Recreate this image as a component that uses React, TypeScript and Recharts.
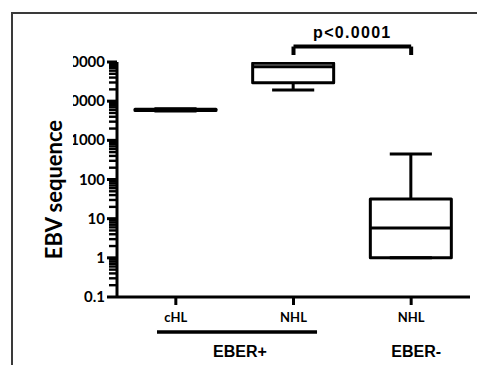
import React from "react";
import { ComposedChart, Bar, XAxis, YAxis, ReferenceLine, Label } from "recharts";

// categories (ids keep the two NHL groups apart)
const groupIds = ["cHL", "NHL+", "NHL-"];
const groupLabels = ["cHL", "NHL", "NHL"];

// box plot values (copies / EBV sequence)
const whiskerLow = [5600, 19300, 1];
const quartile1 = [5800, 29500, 1];
const medians = [6000, 76000, 5.8];
const quartile3 = [6200, 92700, 32];
const whiskerHigh = [6400, 98000, 450];

// tick labels of the log axis
const majorTicks = [0.1, 1, 10, 100, 1000, 10000, 100000];
const majorLabels = ["0.1", "1", "10", "100", "1000", "10000", "100000"];
const minorSteps = [2, 3, 4, 5, 6, 7, 8, 9];

// EBER status groups under the x axis
const eberNames = ["EBER+", "EBER-"];
const eberFirst = [0, 2];
const eberLast = [1, 2];

// significance bracket
const bracketFrom = "NHL+";
const bracketTo = "NHL-";
const bracketTop = 248000;
const bracketFoot = 151000;
const bracketText = "p<0.0001";

const data = groupIds.map((id, i) => ({
  id,
  name: groupLabels[i],
  range: [whiskerLow[i], whiskerHigh[i]],
  q1: quartile1[i],
  median: medians[i],
  q3: quartile3[i],
}));

const calibri = "Lato, 'Open Sans', sans-serif";
const arial = "'Liberation Sans', Arial, sans-serif";

const BoxShape = (props: any) => {
  const { x, y, width, height, payload } = props;
  if (x == null || y == null) return null;
  const top = Math.min(y, y + height);
  const h = Math.abs(height);
  const hi = Math.log10(payload.range[1]);
  const lo = Math.log10(payload.range[0]);
  const toY = (v: number) => top + (h * (hi - Math.log10(v))) / (hi - lo || 1);
  const cx = x + width / 2;
  const cap = width * 0.26;
  const yMax = toY(payload.range[1]);
  const yMin = toY(payload.range[0]);
  const yQ3 = toY(payload.q3);
  const yQ1 = toY(payload.q1);
  const yMed = toY(payload.median);
  return (
    <g stroke="#000" strokeWidth={3} fill="none" strokeLinejoin="round">
      <line x1={cx} x2={cx} y1={yMax} y2={yQ3} />
      <line x1={cx} x2={cx} y1={yQ1} y2={yMin} />
      <line x1={cx - cap} x2={cx + cap} y1={yMax} y2={yMax} />
      <line x1={cx - cap} x2={cx + cap} y1={yMin} y2={yMin} />
      <rect x={x} y={yQ3} width={width} height={Math.max(yQ1 - yQ3, 0.5)} />
      <line x1={x} x2={x + width} y1={yMed} y2={yMed} />
    </g>
  );
};

const YTick = (props: any) => {
  const { x, y, payload, height } = props;
  const idx = majorTicks.indexOf(payload.value);
  const axisLen = Number(height) > 100 && Number(height) < 400 ? Number(height) : 235;
  // one decade in pixels, from the axis length (the domain spans the major ticks)
  const decade = axisLen / (majorTicks.length - 1);
  const minors = idx < majorTicks.length - 1 ? minorSteps : [];
  return (
    <g>
      <path d={`M${x - 10},${y}H${x}`} stroke="#000" strokeWidth={3} fill="none" />
      {minors.map((m) => {
        const my = y - Math.log10(m) * decade;
        return <path key={m} d={`M${x - 8},${my}H${x}`} stroke="#000" strokeWidth={2.4} fill="none" />;
      })}
      <text
        x={x - 12}
        y={y}
        dy={5}
        textAnchor="end"
        fontFamily={calibri}
        fontWeight={700}
        fontSize={15}
        fill="#000"
        clipPath="url(#ytick-clip)"
      >
        {majorLabels[idx]}
      </text>
    </g>
  );
};

const XTick = (props: any) => {
  const { x, y, payload, index, width, visibleTicksCount } = props;
  const band = payload.offset ? payload.offset * 2 : width / visibleTicksCount;
  const g = eberFirst.indexOf(index);
  let group = null;
  if (g >= 0) {
    const xEnd = x + (eberLast[g] - eberFirst[g]) * band;
    const spans = eberLast[g] > eberFirst[g];
    const x1 = x - band * 0.16;
    const x2 = xEnd + band * 0.2;
    group = (
      <g>
        {spans && <line x1={x1} x2={x2} y1={y + 35} y2={y + 35} stroke="#000" strokeWidth={3.5} />}
        <text
          x={spans ? (x1 + x2) / 2 + 3 : x + 5}
          y={y + 60}
          textAnchor="middle"
          fontFamily={arial}
          fontWeight={700}
          fontSize={16}
          fill="#000"
        >
          {eberNames[g]}
        </text>
      </g>
    );
  }
  return (
    <g>
      <line x1={x} x2={x} y1={y} y2={y + 8} stroke="#000" strokeWidth={3} />
      <text x={x} y={y + 25} textAnchor="middle" fontFamily={calibri} fontWeight={700} fontSize={13} fill="#000">
        {groupLabels[index]}
      </text>
      {group}
    </g>
  );
};

export default function App() {
  return (
    <div style={{ position: "absolute", left: 0, top: 0, width: 477, height: 365, background: "#fff" }}>
      <div
        style={{
          position: "absolute",
          left: 11,
          top: 12,
          right: 0,
          bottom: 0,
          borderTop: "2px solid #3a3a3a",
          borderLeft: "2px solid #3a3a3a",
        }}
      />
      <ComposedChart
        width={477}
        height={365}
        data={data}
        margin={{ top: 62, right: 7, bottom: 38, left: 0 }}
        style={{ position: "absolute", left: 0, top: 0 }}
      >
        <defs>
          <clipPath id="ytick-clip">
            <rect x={73} y={0} width={60} height={365} />
          </clipPath>
        </defs>
        <XAxis
          dataKey="id"
          type="category"
          height={30}
          axisLine={{ stroke: "#000", strokeWidth: 3 }}
          tickLine={false}
          tickSize={0}
          tickMargin={0}
          interval={0}
          tick={<XTick />}
        />
        <YAxis
          scale="log"
          domain={[0.1, 100000]}
          allowDataOverflow
          ticks={majorTicks}
          interval={0}
          width={117}
          axisLine={{ stroke: "#000", strokeWidth: 3 }}
          tickLine={false}
          tickSize={0}
          tickMargin={0}
          tick={<YTick />}
        >
          <Label
            content={(p: any) => {
              const vb = p.viewBox || { x: 0, y: 62, width: 117, height: 235 };
              const cx = vb.x + 53;
              const cy = vb.y + vb.height / 2 + 10;
              return (
                <text
                  x={cx}
                  y={cy}
                  transform={`rotate(-90 ${cx} ${cy})`}
                  textAnchor="middle"
                  dominantBaseline="central"
                  fontFamily={calibri}
                  fontWeight={700}
                  fontSize={22}
                  fill="#000"
                >
                  EBV sequence
                </text>
              );
            }}
          />
        </YAxis>
        <Bar dataKey="range" barSize={81} shape={<BoxShape />} isAnimationActive={false} />
        <ReferenceLine
          segment={[
            { x: bracketFrom, y: bracketTop },
            { x: bracketTo, y: bracketTop },
          ]}
          ifOverflow="visible"
          stroke="#000"
          strokeWidth={4}
        >
          <Label
            value={bracketText}
            position="top"
            offset={9}
            fontFamily={arial}
            fontWeight={700}
            fontSize={16}
            letterSpacing={1.3}
            fill="#000"
          />
        </ReferenceLine>
        <ReferenceLine
          segment={[
            { x: bracketFrom, y: bracketTop },
            { x: bracketFrom, y: bracketFoot },
          ]}
          ifOverflow="visible"
          stroke="#000"
          strokeWidth={4}
        />
        <ReferenceLine
          segment={[
            { x: bracketTo, y: bracketTop },
            { x: bracketTo, y: bracketFoot },
          ]}
          ifOverflow="visible"
          stroke="#000"
          strokeWidth={4}
        />
      </ComposedChart>
    </div>
  );
}
